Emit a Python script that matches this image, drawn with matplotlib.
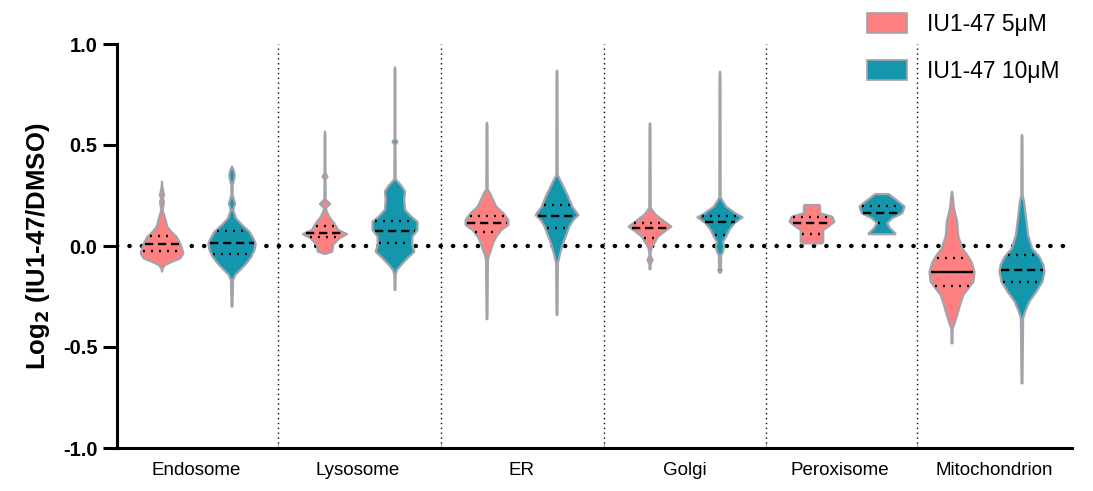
import numpy as np
import matplotlib
matplotlib.use("Agg")
import matplotlib.pyplot as plt
from matplotlib.patches import Polygon, Patch

plt.rcParams['font.family'] = ['Liberation Sans', 'DejaVu Sans']

# -----------------------------
# data
# -----------------------------
categories = ["Endosome", "Lysosome", "ER", "Golgi", "Peroxisome", "Mitochondrion"]
series = ["IU1-47 5\u03bcM", "IU1-47 10\u03bcM"]

# violin outlines: (log2 value, relative density 0..1)
endo_5 = [(0.318, 0), (0.29, 0.02), (0.25, 0.09), (0.235, 0.03), (0.22, 0.09), (0.178, 0.03),
          (0.137, 0.14), (0.12, 0.18), (0.096, 0.23), (0.071, 0.41), (0.046, 0.64), (0.021, 0.77),
          (-0.003, 0.86), (-0.036, 0.95), (-0.061, 0.82), (-0.078, 0.45), (-0.094, 0.14),
          (-0.11, 0.03), (-0.127, 0)]
endo_10 = [(0.393, 0), (0.37, 0.09), (0.35, 0.12), (0.33, 0.09), (0.30, 0.03), (0.25, 0.03),
           (0.21, 0.14), (0.178, 0.05), (0.137, 0.18), (0.104, 0.45), (0.071, 0.77), (0.038, 0.95),
           (0.013, 1.05), (-0.02, 1.0), (-0.053, 0.86), (-0.086, 0.64), (-0.119, 0.36),
           (-0.144, 0.14), (-0.168, 0.05), (-0.30, 0.02), (-0.30, 0)]
lyso_5 = [(0.566, 0), (0.55, 0.02), (0.36, 0.02), (0.343, 0.11), (0.33, 0.02), (0.23, 0.03),
          (0.208, 0.23), (0.19, 0.05), (0.178, 0.05), (0.145, 0.18), (0.112, 0.41), (0.079, 0.59),
          (0.059, 0.98), (0.038, 0.64), (0.005, 0.36), (-0.028, 0.32), (-0.04, 0)]
lyso_10 = [(0.885, 0), (0.87, 0.02), (0.53, 0.02), (0.516, 0.11), (0.50, 0.02), (0.33, 0.03),
           (0.30, 0.27), (0.27, 0.45), (0.228, 0.41), (0.178, 0.45), (0.145, 0.73), (0.12, 1.0),
           (0.079, 1.0), (0.046, 0.77), (0.005, 0.77), (-0.028, 0.86), (-0.061, 0.55),
           (-0.094, 0.27), (-0.119, 0.09), (-0.14, 0.03), (-0.218, 0.02), (-0.218, 0)]
er_5 = [(0.61, 0), (0.60, 0.02), (0.28, 0.03), (0.26, 0.14), (0.228, 0.27), (0.195, 0.41),
        (0.162, 0.73), (0.129, 0.95), (0.104, 0.95), (0.079, 0.64), (0.046, 0.41), (0.013, 0.27),
        (-0.02, 0.18), (-0.045, 0.09), (-0.07, 0.04), (-0.36, 0.02), (-0.363, 0)]
er_10 = [(0.868, 0), (0.86, 0.02), (0.35, 0.03), (0.327, 0.14), (0.286, 0.32), (0.244, 0.5),
         (0.195, 0.68), (0.153, 0.95), (0.129, 0.73), (0.096, 0.55), (0.054, 0.41), (0.013, 0.27),
         (-0.036, 0.14), (-0.086, 0.04), (-0.34, 0.02), (-0.342, 0)]
golgi_5 = [(0.607, 0), (0.60, 0.02), (0.19, 0.03), (0.178, 0.09), (0.153, 0.27), (0.129, 0.55),
           (0.096, 0.95), (0.071, 0.64), (0.046, 0.36), (0.021, 0.23), (-0.003, 0.09),
           (-0.028, 0.03), (-0.05, 0.03), (-0.069, 0.11), (-0.089, 0.03), (-0.115, 0.02), (-0.115, 0)]
golgi_10 = [(0.863, 0), (0.85, 0.02), (0.24, 0.03), (0.228, 0.09), (0.195, 0.27), (0.162, 0.68),
            (0.142, 1.0), (0.112, 0.64), (0.079, 0.41), (0.046, 0.27), (0.021, 0.14),
            (-0.003, 0.18), (-0.028, 0.14), (-0.045, 0.05), (-0.11, 0.04), (-0.12, 0.08),
            (-0.132, 0.03), (-0.132, 0)]
perox_5 = [(0.203, 0), (0.203, 0.34), (0.195, 0.36), (0.162, 0.36), (0.145, 0.9), (0.12, 1.0),
           (0.096, 0.73), (0.079, 0.5), (0.021, 0.5), (0.013, 0.45), (0.013, 0)]
perox_10 = [(0.257, 0), (0.257, 0.3), (0.228, 0.64), (0.195, 1.0), (0.162, 0.9), (0.137, 0.45),
            (0.112, 0.23), (0.088, 0.36), (0.063, 0.59), (0.058, 0.59), (0.058, 0)]
mito_5 = [(0.269, 0), (0.25, 0.03), (0.186, 0.09), (0.12, 0.23), (0.054, 0.27), (-0.012, 0.45),
          (-0.045, 0.68), (-0.078, 0.86), (-0.127, 1.0), (-0.177, 0.95), (-0.21, 0.73),
          (-0.243, 0.5), (-0.292, 0.36), (-0.342, 0.23), (-0.391, 0.09), (-0.41, 0.03),
          (-0.482, 0.02), (-0.482, 0)]
mito_10 = [(0.55, 0), (0.54, 0.02), (0.25, 0.03), (0.22, 0.09), (0.137, 0.18), (0.054, 0.27),
           (-0.012, 0.45), (-0.053, 0.77), (-0.094, 0.95), (-0.127, 1.0), (-0.177, 0.91),
           (-0.226, 0.64), (-0.276, 0.32), (-0.325, 0.14), (-0.358, 0.05), (-0.68, 0.02), (-0.68, 0)]

# quartiles (lower, median, upper)
quart_5 = [(-0.026, 0.008, 0.048), (0.043, 0.063, 0.10), (0.071, 0.112, 0.15),
           (0.041, 0.091, 0.112), (0.058, 0.112, 0.142), (-0.196, -0.127, -0.058)]
quart_10 = [(-0.04, 0.013, 0.074), (0.016, 0.074, 0.125), (0.091, 0.149, 0.203),
            (0.054, 0.12, 0.149), (0.112, 0.165, 0.198), (-0.177, -0.119, -0.045)]

violins_5 = [endo_5, lyso_5, er_5, golgi_5, perox_5, mito_5]
violins_10 = [endo_10, lyso_10, er_10, golgi_10, perox_10, mito_10]

# -----------------------------
# layout (x in pixel-like units from the left spine)
# -----------------------------
pair_centers = [80, 243, 405, 568, 730, 870]
label_centers = [79, 241, 405, 568, 723, 877]
separators = [161, 324, 487, 649, 800]
offset = 35
max_half = 22.5

colors = ["#FF8080", "#1497AD"]
edge = "#A3A3AB"

W, H = 1093, 491
fig = plt.figure(figsize=(W / 100, H / 100), dpi=100)
ax = fig.add_axes([117 / W, 1 - 448 / H, (1072 - 117) / W, (448 - 44) / H])
ax.set_xlim(0, 955)
ax.set_ylim(-1, 1)

ax.axhline(0, color="black", lw=3.2, ls=(0, (0.05, 2.75)), dash_capstyle="round", zorder=1)
for s in separators:
    ax.axvline(s, color="black", lw=1, ls=(0, (1, 2.5)), zorder=1)


def draw_violin(cx, prof, quart, color, solid_median=False):
    ys = np.array([p[0] for p in prof])
    ws = np.array([p[1] for p in prof]) * max_half
    xs = np.concatenate([cx + ws, (cx - ws)[::-1]])
    yy = np.concatenate([ys, ys[::-1]])
    poly = Polygon(np.column_stack([xs, yy]), closed=True, facecolor=color, edgecolor=edge,
                   lw=1.6, joinstyle="round", zorder=3)
    ax.add_patch(poly)
    order = np.argsort(ys)
    for k, q in enumerate(quart):
        hw = np.interp(q, ys[order], ws[order]) - 1.5
        if k == 1:
            ls = "-" if solid_median else (0, (3.5, 2))
        else:
            ls = (0, (0.8, 2.6))
        ax.plot([cx - hw, cx + hw], [q, q], color="black", lw=1.7, ls=ls, zorder=4,
                solid_capstyle="butt")


for i in range(len(categories)):
    draw_violin(pair_centers[i] - offset, violins_5[i], quart_5[i], colors[0],
                solid_median=(i == 5))
    draw_violin(pair_centers[i] + offset, violins_10[i], quart_10[i], colors[1])

for side in ["top", "right"]:
    ax.spines[side].set_visible(False)
for side in ["left", "bottom"]:
    ax.spines[side].set_linewidth(2.2)

ax.set_yticks([-1.0, -0.5, 0.0, 0.5, 1.0])
ax.set_yticklabels(["-1.0", "-0.5", "0.0", "0.5", "1.0"], fontsize=14.5, fontweight="bold")
ax.tick_params(axis="y", length=10, width=2.2, pad=4)
ax.set_xticks(label_centers)
ax.set_xticklabels(categories, fontsize=13.5)
ax.tick_params(axis="x", length=0, pad=10)
ax.set_xticks(separators, minor=True)
ax.tick_params(axis="x", which="minor", length=3, width=0.6, direction="in", color="#888888")

ax.set_ylabel("Log$_\\mathbf{2}$ (IU1-47/DMSO)", fontsize=18.5, fontweight="bold", labelpad=8)

handles = [Patch(facecolor=colors[0], edgecolor=edge, lw=1.2),
           Patch(facecolor=colors[1], edgecolor=edge, lw=1.2)]
fig.legend(handles, series, loc="upper left", bbox_to_anchor=(846 / W, 1 + 8 / H),
           frameon=False, fontsize=16.5, handlelength=1.75, handleheight=1.0,
           labelspacing=1.05, handletextpad=0.9)

fig.savefig("out.png", dpi=100)
